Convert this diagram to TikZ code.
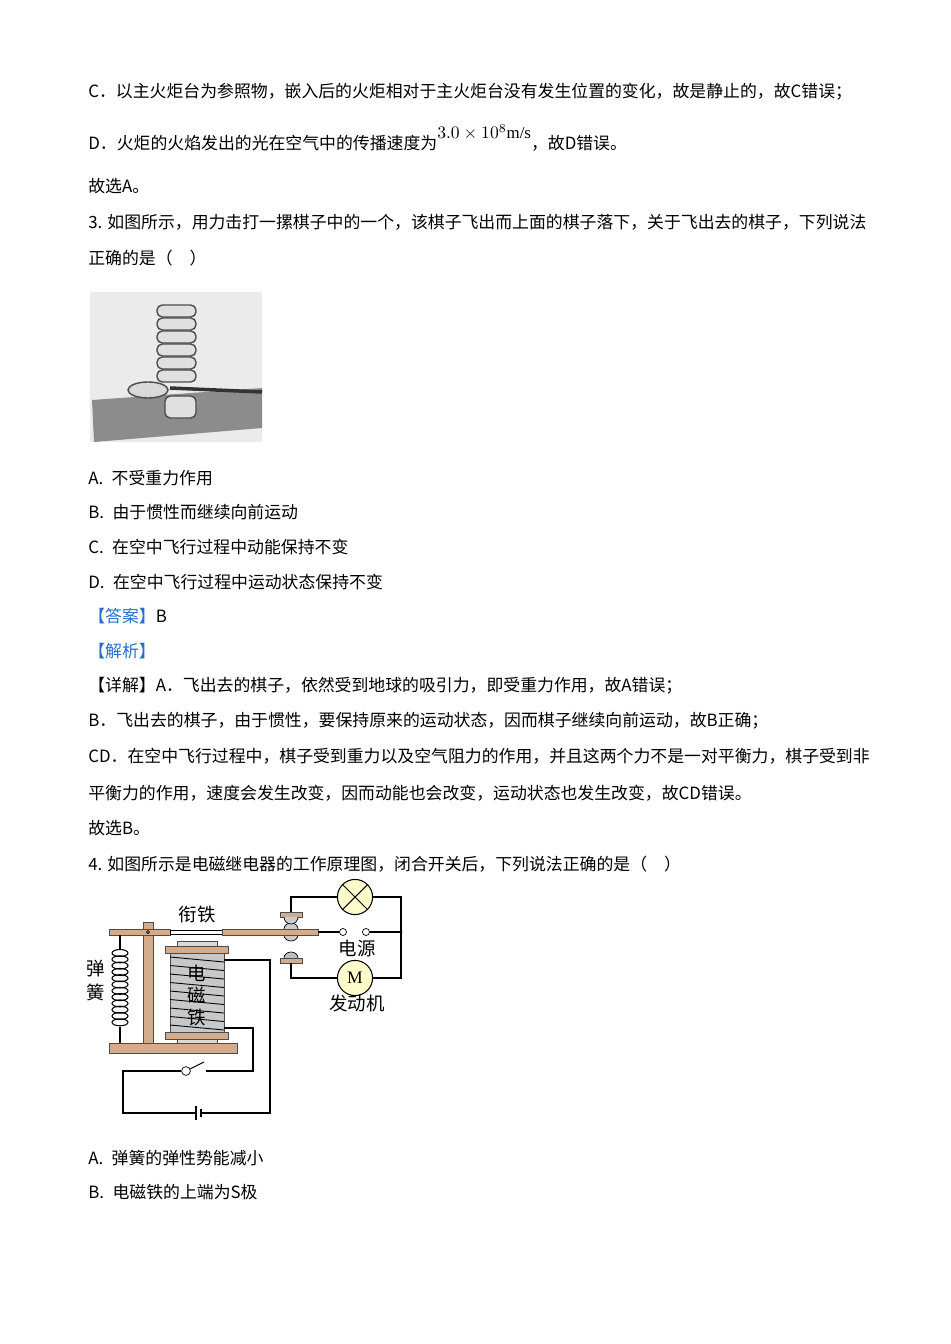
\documentclass[tikz,border=0pt]{standalone}
\usepackage{fontspec}
\setmainfont{Liberation Serif}
\newfontfamily\cjk{Noto Sans CJK SC}
\usetikzlibrary{positioning}
\definecolor{tan}{RGB}{210,172,140}
\definecolor{ansblue}{RGB}{40,110,200}
\definecolor{coilgray}{RGB}{200,200,200}
\tikzset{
  line/.style={anchor=west,inner sep=0pt,font=\fontsize{9.6pt}{10pt}\selectfont\cjk},
  lbl/.style={inner sep=0pt,font=\fontsize{10.5pt}{11pt}\selectfont\cjk},
  wood/.style={draw=black!70,fill=tan,line width=0.5pt},
  wire/.style={line width=0.6pt},
  term/.style={circle,draw,fill=white,inner sep=0pt,minimum size=4pt}
}
\begin{document}
\begin{tikzpicture}[x=0.02cm,y=-0.02cm]
        \useasboundingbox (0,0) rectangle (950,1344);
        % text of the page
        \node[line] (c) at (88,92) {C．以主火炬台为参照物，嵌入后的火炬相对于主火炬台没有发生位置的变化，故是静止的，故C错误；};
        \node[line] (d) at (88,138) {D．火炬的火焰发出的光在空气中的传播速度为\raisebox{1.2ex}{\rmfamily $3.0\times10^{8}$m/s}，故D错误。};
        \node[line] (sa) at (88,186) {故选A。};
        \node[line] (q3) at (88,222) {3. 如图所示，用力击打一摞棋子中的一个，该棋子飞出而上面的棋子落下，关于飞出去的棋子，下列说法};
        \node[line] (q3b) at (88,258) {正确的是（\quad）};
        \node[line] (oa) at (88,478) {A.\enspace 不受重力作用};
        \node[line] (ob) at (88,512) {B.\enspace 由于惯性而继续向前运动};
        \node[line] (oc) at (88,547) {C.\enspace 在空中飞行过程中动能保持不变};
        \node[line] (od) at (88,582) {D.\enspace 在空中飞行过程中运动状态保持不变};
        \node[line] (ans) at (88,616) {\textcolor{ansblue}{【答案】}B};
        \node[line] (ana) at (88,651) {\textcolor{ansblue}{【解析】}};
        \node[line] (x1) at (88,686) {【详解】A．飞出去的棋子，依然受到地球的吸引力，即受重力作用，故A错误；};
        \node[line] (x2) at (88,721) {B．飞出去的棋子，由于惯性，要保持原来的运动状态，因而棋子继续向前运动，故B正确；};
        \node[line] (x3) at (88,756) {CD．在空中飞行过程中，棋子受到重力以及空气阻力的作用，并且这两个力不是一对平衡力，棋子受到非};
        \node[line] (x4) at (88,793) {平衡力的作用，速度会发生改变，因而动能也会改变，运动状态也发生改变，故CD错误。};
        \node[line] (sb) at (88,828) {故选B。};
        \node[line] (q4) at (88,864) {4. 如图所示是电磁继电器的工作原理图，闭合开关后，下列说法正确的是（\quad）};
        \node[line] (pa) at (88,1158) {A.\enspace 弹簧的弹性势能减小};
        \node[line] (pb) at (88,1192) {B.\enspace 电磁铁的上端为S极};

        % photo of the stack of pieces
        \fill[black!8] (90,292) rectangle (262,442);
        \fill[black!45] (92,400) -- (262,388) -- (262,428) -- (94,442) -- cycle;
        \foreach \k in {0,...,5}
          \draw[fill=black!12,draw=black!70,line width=0.8pt,rounded corners=3pt]
            (157,{370-\k*13}) rectangle (196,{382-\k*13});
        \draw[fill=black!15,draw=black!70,line width=0.8pt] (148,390) ellipse (20 and 8);
        \draw[fill=black!12,draw=black!70,line width=0.8pt,rounded corners=3pt] (165,396) rectangle (196,418);
        \draw[black!80,line width=2pt] (170,388) -- (262,392);

        % relay: frame, spring and armature
        \draw[wood] (109,1043) rectangle (237,1053);
        \draw[wood] (143,922) rectangle (153,1043);
        \draw[wood] (109,929) rectangle (170,935);
        \draw[line width=0.5pt,fill=white] (170,930) rectangle (222,934);
        \draw[fill=black!20] (284,929) arc (180:360:7 and 6);
        \draw[fill=black!20] (284,935) arc (180:0:7 and 6);
        \draw[wood] (222,929) rectangle (318,935);
        \draw (148,932) circle (1.5);
        \draw[wire] (120,935) -- (120,950);
        \foreach \k in {0,...,11}
          \draw[line width=0.6pt] (120,{953+\k*6.3}) ellipse (8 and 3.5);
        \draw[wire] (120,1027) -- (120,1043);
        % electromagnet
        \draw[wood,fill=black!15] (177,941) rectangle (217,946);
        \draw[wood] (165,946) rectangle (228,953);
        \draw[draw=black!70,fill=coilgray] (170,953) rectangle (224,1032);
        \foreach \k in {0,...,8}
          \draw[line width=0.5pt] (170,{957+\k*8.5}) -- (224,{962+\k*8.5});
        \draw[wood] (165,1032) rectangle (228,1039);
        \draw[wood,fill=black!15] (177,1039) rectangle (217,1043);
        \node[lbl] (e1) at (197,973) {电};
        \node[lbl] (e2) at (197,995) {磁};
        \node[lbl] (e3) at (197,1017) {铁};
        \node[lbl] (sp1) at (96,969) {弹};
        \node[lbl] (sp2) at (96,992) {簧};
        \node[lbl] (arm) at (197,914) {衔铁};
        % control circuit
        \coordinate (ctop) at (224,960);
        \coordinate (cbot) at (224,1028);
        \node[term,minimum size=5pt] (sw) at (186,1071) {};
        \coordinate (swend) at (206,1071);
        \draw[wire] (sw) -- (204,1062);
        \draw[wire] (cbot) -| (253,1071) -- (swend);
        \draw[wire] (sw) -- (123,1071) |- (196,1113);
        \draw[wire] (196,1106) -- (196,1120);
        \draw[wire] (201,1109) -- (201,1117);
        \draw[wire] (201,1113) -| (270,960) -- (ctop);
        % contacts
        \draw[wood] (280,912) rectangle (302,917);
        \draw[fill=black!20] (284,917) arc (180:0:7 and 7);
        \draw[fill=black!25] (284,958) arc (180:360:7 and 6);
        \draw[wood] (280,958) rectangle (302,963);
        % working circuit
        \node[circle,draw,fill=yellow!20,minimum size=20pt,inner sep=0pt,line width=0.6pt] (lamp) at (355,897) {};
        \draw[line width=0.6pt] (lamp.north west) -- (lamp.south east) (lamp.north east) -- (lamp.south west);
        \node[circle,draw,fill=yellow!20,minimum size=20pt,inner sep=0pt,line width=0.6pt,font=\rmfamily] (mot) at (355,978) {M};
        \node[term] (t1) at (343,932) {};
        \node[term] (t2) at (366,932) {};
        \coordinate (dot) at (401,932);
        \fill (dot) circle (1.5);
        \draw[wire] (291,912) |- (lamp) -- (401,897) -- (dot);
        \draw[wire] (291,963) |- (mot) -- (401,978) -- (dot);
        \draw[wire] (318,932) -- (t1);
        \draw[wire] (t2) -- (dot);
        \node[lbl] (src) at (357,948) {电源};
        \node[lbl] (motl) at (357,1003) {发动机};
    \end{tikzpicture}
\end{document}
